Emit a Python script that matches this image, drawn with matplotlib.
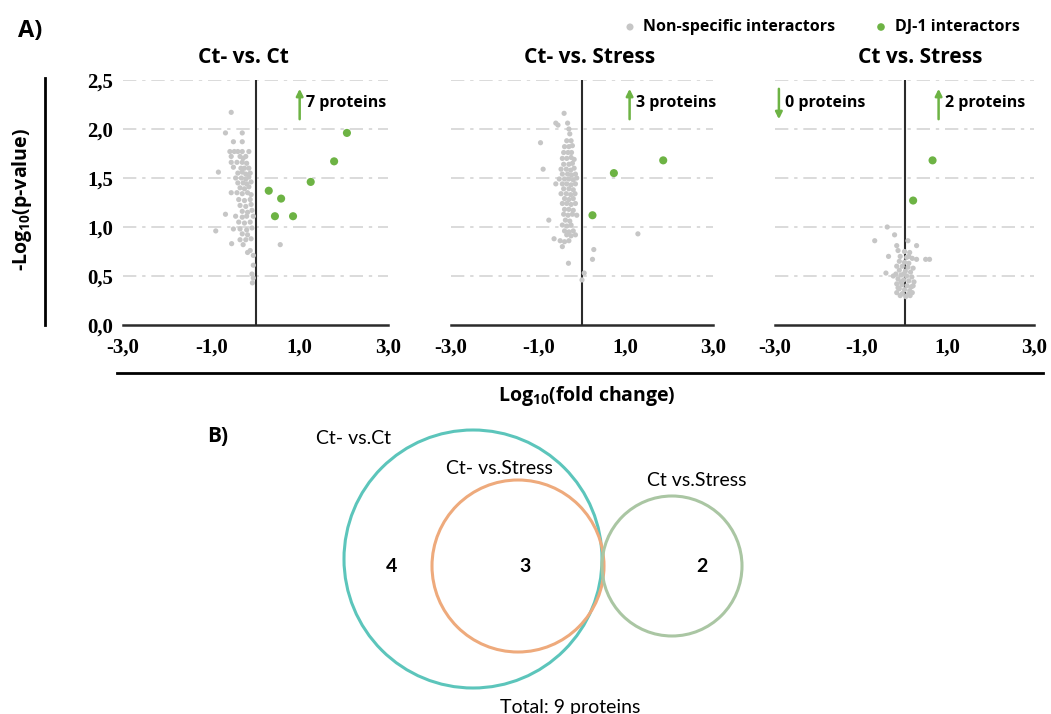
import matplotlib
matplotlib.use("Agg")
import matplotlib.pyplot as plt
from matplotlib.patches import Circle
from matplotlib.lines import Line2D

plt.rcParams['font.family'] = ['Open Sans', 'DejaVu Sans']
plt.rcParams['mathtext.default'] = 'regular'

# ---------------- data ----------------
titles = ["Ct- vs. Ct", "Ct- vs. Stress", "Ct vs. Stress"]
xticks = [-3.0, -1.0, 1.0, 3.0]
yticks = [0.0, 0.5, 1.0, 1.5, 2.0, 2.5]

p1_gray_x = [-0.55, -0.68, -0.30, -0.50, -0.30, -0.58, -0.48, -0.40, -0.30, -0.15,
             -0.55, -0.35, -0.22, -0.28, -0.55, -0.42, -0.30, -0.20, -0.50, -0.33,
             -0.25, -0.15, -0.84, -0.40, -0.30, -0.22, -0.12, -0.45, -0.32, -0.22,
             -0.15, -0.40, -0.28, -0.20, -0.10, -0.35, -0.25, -0.15, -0.55, -0.42,
             -0.30, -0.18, -0.10, -0.38, -0.25, -0.12, -0.35, -0.22, -0.10, -0.30,
             -0.18, -0.08, -0.68, -0.45, -0.30, -0.20, -0.05, -0.38, -0.25, -0.12,
             -0.50, -0.35, -0.20, -0.08, -0.30, -0.18, -0.90, -0.35, -0.22, -0.10,
             -0.54, -0.28, 0.56, -0.12, -0.18, -0.05, -0.05, -0.08, -0.05, -0.07]
p1_gray_y = [2.17, 1.96, 1.96, 1.87, 1.87, 1.77, 1.77, 1.77, 1.77, 1.77,
             1.72, 1.72, 1.72, 1.70, 1.66, 1.66, 1.66, 1.65, 1.61, 1.60,
             1.60, 1.60, 1.56, 1.55, 1.56, 1.54, 1.55, 1.50, 1.50, 1.49,
             1.51, 1.45, 1.45, 1.44, 1.46, 1.40, 1.39, 1.41, 1.35, 1.35,
             1.34, 1.35, 1.33, 1.28, 1.27, 1.28, 1.22, 1.21, 1.23, 1.16,
             1.15, 1.17, 1.13, 1.11, 1.10, 1.11, 1.11, 1.05, 1.04, 1.05,
             0.98, 0.98, 0.97, 0.99, 0.93, 0.92, 0.96, 0.87, 0.87, 0.88,
             0.83, 0.82, 0.82, 0.76, 0.74, 0.71, 0.61, 0.52, 0.48, 0.43]
p1_green_x = [2.07, 1.78, 1.25, 0.30, 0.58, 0.44, 0.85]
p1_green_y = [1.96, 1.67, 1.46, 1.37, 1.29, 1.11, 1.11]

p2_gray_x = [-0.41, -0.60, -0.33, -0.55, -0.95, -0.89, -0.76, -0.64, -0.31, 0.27,
             0.24, 1.28, 0.05, 0.00, -0.30, -0.28, -0.35, -0.25, -0.40, -0.30,
             -0.22, -0.42, -0.32, -0.24, -0.45, -0.35, -0.25, -0.18, -0.42, -0.30,
             -0.22, -0.48, -0.36, -0.26, -0.18, -0.45, -0.33, -0.24, -0.15, -0.52,
             -0.40, -0.30, -0.20, -0.12, -0.60, -0.45, -0.35, -0.25, -0.15, -0.42,
             -0.30, -0.20, -0.48, -0.36, -0.26, -0.16, -0.40, -0.30, -0.20, -0.45,
             -0.35, -0.25, -0.15, -0.40, -0.30, -0.20, -0.42, -0.32, -0.22, -0.12,
             -0.38, -0.28, -0.45, -0.35, -0.25, -0.40, -0.30, -0.20, -0.35, -0.25,
             -0.15, -0.50, -0.40, -0.30, -0.45]
p2_gray_y = [2.16, 2.06, 2.06, 2.04, 1.86, 1.59, 1.07, 0.88, 0.63, 0.77,
             0.67, 0.93, 0.53, 0.46, 2.00, 1.95, 1.88, 1.88, 1.82, 1.82,
             1.83, 1.76, 1.76, 1.76, 1.70, 1.70, 1.71, 1.69, 1.64, 1.64,
             1.65, 1.59, 1.59, 1.58, 1.60, 1.54, 1.54, 1.53, 1.54, 1.49,
             1.49, 1.49, 1.48, 1.50, 1.44, 1.44, 1.44, 1.43, 1.44, 1.39,
             1.39, 1.38, 1.34, 1.34, 1.33, 1.34, 1.29, 1.28, 1.29, 1.24,
             1.24, 1.23, 1.24, 1.18, 1.18, 1.17, 1.13, 1.12, 1.13, 1.12,
             1.07, 1.06, 1.02, 1.01, 1.02, 0.96, 0.95, 0.96, 0.92, 0.91,
             0.92, 0.86, 0.85, 0.86, 0.80]
p2_green_x = [1.86, 0.73, 0.24]
p2_green_y = [1.68, 1.55, 1.12]

p3_gray_x = [-0.40, -0.23, -0.69, 0.08, -0.18, 0.28, -0.37, 0.49, 0.58, 0.28,
             -0.43, -0.26, -0.15, 0.00, 0.12, -0.10, 0.05, 0.18, -0.12, 0.00,
             0.10, -0.18, -0.05, 0.08, 0.20, -0.12, 0.02, 0.14, -0.20, -0.08,
             0.05, 0.17, -0.15, -0.02, 0.10, 0.22, -0.18, -0.06, 0.06, 0.16,
             -0.12, 0.00, 0.12, -0.18, -0.05, 0.08, 0.18, -0.10, 0.03, -0.15,
             0.20, -0.02, 0.10, -0.08, 0.13]
p3_gray_y = [1.00, 0.92, 0.86, 0.86, 0.81, 0.81, 0.70, 0.67, 0.67, 0.67,
             0.53, 0.50, 0.76, 0.75, 0.74, 0.70, 0.69, 0.68, 0.65, 0.64,
             0.63, 0.60, 0.60, 0.59, 0.58, 0.56, 0.55, 0.54, 0.52, 0.51,
             0.50, 0.49, 0.47, 0.46, 0.45, 0.44, 0.42, 0.41, 0.40, 0.39,
             0.37, 0.36, 0.35, 0.33, 0.32, 0.31, 0.33, 0.30, 0.29, 0.38,
             0.40, 0.52, 0.70, 0.44, 0.30]
p3_green_x = [0.65, 0.20]
p3_green_y = [1.68, 1.27]

up_counts = [7, 3, 2]
down_counts = [None, None, 0]

venn_labels = ["Ct- vs.Ct", "Ct- vs.Stress", "Ct vs.Stress"]
venn_counts = [4, 3, 2]
venn_total = 9

# ---------------- styles ----------------
GRAY = "#c6c6c6"
GREEN = "#6db344"
AXC = "#2b2b2b"
VENN_FONT = ['Lato', 'DejaVu Sans']

fig = plt.figure(figsize=(10.51, 7.14), dpi=100)
W, H = 1051, 714

def fx(px):
    return px / W

def fy(py):
    return 1 - py / H

panels = [(123, 388), (451, 713), (775, 1034)]
title_x_px = [243, 590, 920]
top_px, bot_px = 80, 325
data = [(p1_gray_x, p1_gray_y, p1_green_x, p1_green_y),
        (p2_gray_x, p2_gray_y, p2_green_x, p2_green_y),
        (p3_gray_x, p3_gray_y, p3_green_x, p3_green_y)]
up_arrow_x = [1.0, 1.09, 0.79]
down_arrow_x = [None, None, -2.91]

axes = []
for i, (l, r) in enumerate(panels):
    ax = fig.add_axes([fx(l), fy(bot_px), (r - l) / W, (bot_px - top_px) / H])
    axes.append(ax)
    ax.set_xlim(-3, 3)
    ax.set_ylim(0, 2.5)
    for s in ["top", "right", "left"]:
        ax.spines[s].set_visible(False)
    ax.spines["bottom"].set_color(AXC)
    ax.spines["bottom"].set_linewidth(1.8)
    ax.set_facecolor("none")
    for yv in yticks[1:]:
        ax.axhline(yv, color="#d4d4d4", lw=1.2, ls=(0, (8, 3.5, 2, 3.5)), zorder=0)
    ax.axvline(0, color=AXC, lw=1.5, zorder=1)
    gx, gy, grx, gry = data[i]
    ax.scatter(gx, gy, s=14, color=GRAY, edgecolors="none", zorder=2)
    ax.scatter(grx, gry, s=34, color=GREEN, edgecolors="none", zorder=3)
    ax.set_xticks(xticks)
    ax.set_xticklabels([f"{v:.1f}".replace(".", ",") for v in xticks],
                       family="Liberation Serif", fontweight="bold", fontsize=15)
    ax.tick_params(axis="x", length=0, pad=9)
    if i == 0:
        ax.set_yticks(yticks)
        ax.set_yticklabels([f"{v:.1f}".replace(".", ",") for v in yticks],
                           family="Liberation Serif", fontweight="bold", fontsize=15)
        ax.tick_params(axis="y", length=0, pad=7)
    else:
        ax.set_yticks([])
    ax.set_title(titles[i], fontsize=15, fontweight="bold",
                 x=(title_x_px[i] - l) / (r - l), y=1.0, pad=12)
    # arrows and counts
    ax.annotate("", xy=(up_arrow_x[i], 2.41), xytext=(up_arrow_x[i], 2.1),
                arrowprops=dict(arrowstyle="-|>", color=GREEN, lw=1.8,
                                mutation_scale=10, shrinkA=0, shrinkB=0))
    ax.text(up_arrow_x[i] + 0.15, 2.27, f"{up_counts[i]} proteins",
            fontsize=11.5, fontweight="bold", va="center", ha="left")
    if down_counts[i] is not None:
        ax.annotate("", xy=(down_arrow_x[i], 2.1), xytext=(down_arrow_x[i], 2.41),
                    arrowprops=dict(arrowstyle="-|>", color=GREEN, lw=1.8,
                                    mutation_scale=10, shrinkA=0, shrinkB=0))
        ax.text(down_arrow_x[i] + 0.15, 2.27, f"{down_counts[i]} proteins",
                fontsize=11.5, fontweight="bold", va="center", ha="left")

# ---------------- overlay (pixel coordinates) ----------------
ov = fig.add_axes([0, 0, 1, 1])
ov.set_xlim(0, W)
ov.set_ylim(H, 0)
ov.axis("off")
ov.set_facecolor("none")

# bracket lines
ov.add_line(Line2D([45, 45], [78, 325], color="black", lw=2))
ov.add_line(Line2D([117, 1043], [373, 373], color="black", lw=2))

ov.text(22, 200, "-Log$_{10}$(p-value)", rotation=90, ha="center", va="center",
        fontsize=14, fontweight="bold")
ov.text(587, 396, "Log$_{10}$(fold change)", ha="center", va="center",
        fontsize=14, fontweight="bold")
ov.text(18, 31, "A)", ha="left", va="center", fontsize=17, fontweight="bold")

# legend
ov.scatter([630], [27], s=26, color=GRAY, edgecolors="none")
ov.text(643, 27, "Non-specific interactors", ha="left", va="center",
        fontsize=11.5, fontweight="bold")
ov.scatter([881], [27], s=30, color=GREEN, edgecolors="none")
ov.text(895, 27, "DJ-1 interactors", ha="left", va="center",
        fontsize=11.5, fontweight="bold")

# ---------------- Venn ----------------
ov.text(207, 437, "B)", ha="left", va="center", fontsize=15, fontweight="bold")
venn_circles = [((473, 559), 129, "#5cc5bb"),
                ((518, 566), 86, "#eeaa7c"),
                ((672, 566), 70, "#aac6a3")]
for (c, r, col) in venn_circles:
    ov.add_patch(Circle(c, r, fill=False, edgecolor=col, lw=2.2))
label_pos = [(353, 438), (499, 468), (697, 480)]
for (lx, ly), lab in zip(label_pos, venn_labels):
    ov.text(lx, ly, lab, ha="center", va="center", fontsize=14, family=VENN_FONT)
count_pos = [(392, 567), (525, 567), (702, 567)]
for (cx, cy), n in zip(count_pos, venn_counts):
    ov.text(cx, cy, str(n), ha="center", va="center", fontsize=14,
            fontweight="bold", family=VENN_FONT)
ov.text(570, 707, f"Total: {venn_total} proteins", ha="center", va="center",
        fontsize=14, family=VENN_FONT)

fig.savefig("out.png", dpi=100)
